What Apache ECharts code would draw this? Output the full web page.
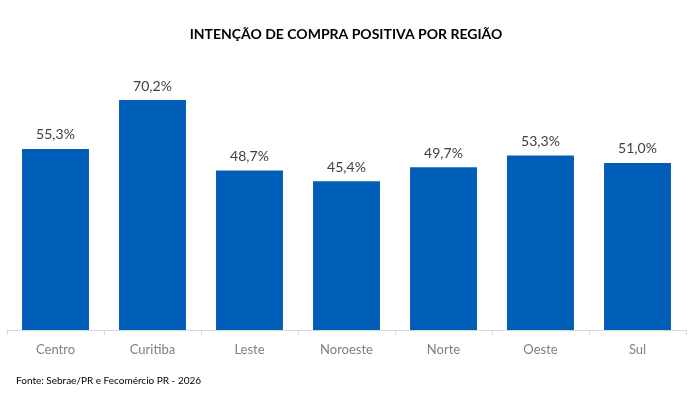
<!DOCTYPE html>
<html><head><meta charset="utf-8">
<script src="https://cdn.jsdelivr.net/npm/echarts@6/dist/echarts.min.js"></script>
<style>html,body{margin:0;padding:0;background:#fff}#c{width:692px;height:397px}</style>
</head><body><div id="c"></div>
<script>
const categories = ["Centro","Curitiba","Leste","Noroeste","Norte","Oeste","Sul"];
const values = [55.3,70.2,48.7,45.4,49.7,53.3,51.0];
const titleText = "INTENÇÃO DE COMPRA POSITIVA POR REGIÃO";
const sourceText = "Fonte: Sebrae/PR e Fecomércio PR - 2026";
const FONT = "Lato, 'Open Sans', sans-serif";
const chart = echarts.init(document.getElementById('c'));
chart.setOption({
  animation:false,
  backgroundColor:'#fff',
  title:[{text:titleText,left:'center',top:22,textStyle:{fontFamily:FONT,fontSize:14,fontWeight:'bold',color:'#000'}},
         {text:sourceText,left:11,top:371,textStyle:{fontFamily:FONT,fontSize:10,fontWeight:'normal',color:'#000'}}],
  grid:{left:7,right:6,top:68,bottom:67,containLabel:false},
  xAxis:{type:'category',data:categories,
    axisLine:{lineStyle:{color:'#d9d9d9'}},
    axisTick:{show:true,alignWithLabel:false,length:5,lineStyle:{color:'#d9d9d9'}},
    axisLabel:{fontFamily:FONT,fontSize:13,color:'#7f7f7f',margin:13}},
  yAxis:{type:'value',min:0,max:80,show:false,splitLine:{show:false}},
  series:[{type:'bar',data:values,barWidth:'69%',itemStyle:{color:'#005EB8'},
    label:{show:true,position:'top',distance:7,fontFamily:FONT,fontSize:14,color:'#404040',
      formatter:p=>p.value.toFixed(1).replace('.',',')+'%'}}]
});
</script></body></html>
